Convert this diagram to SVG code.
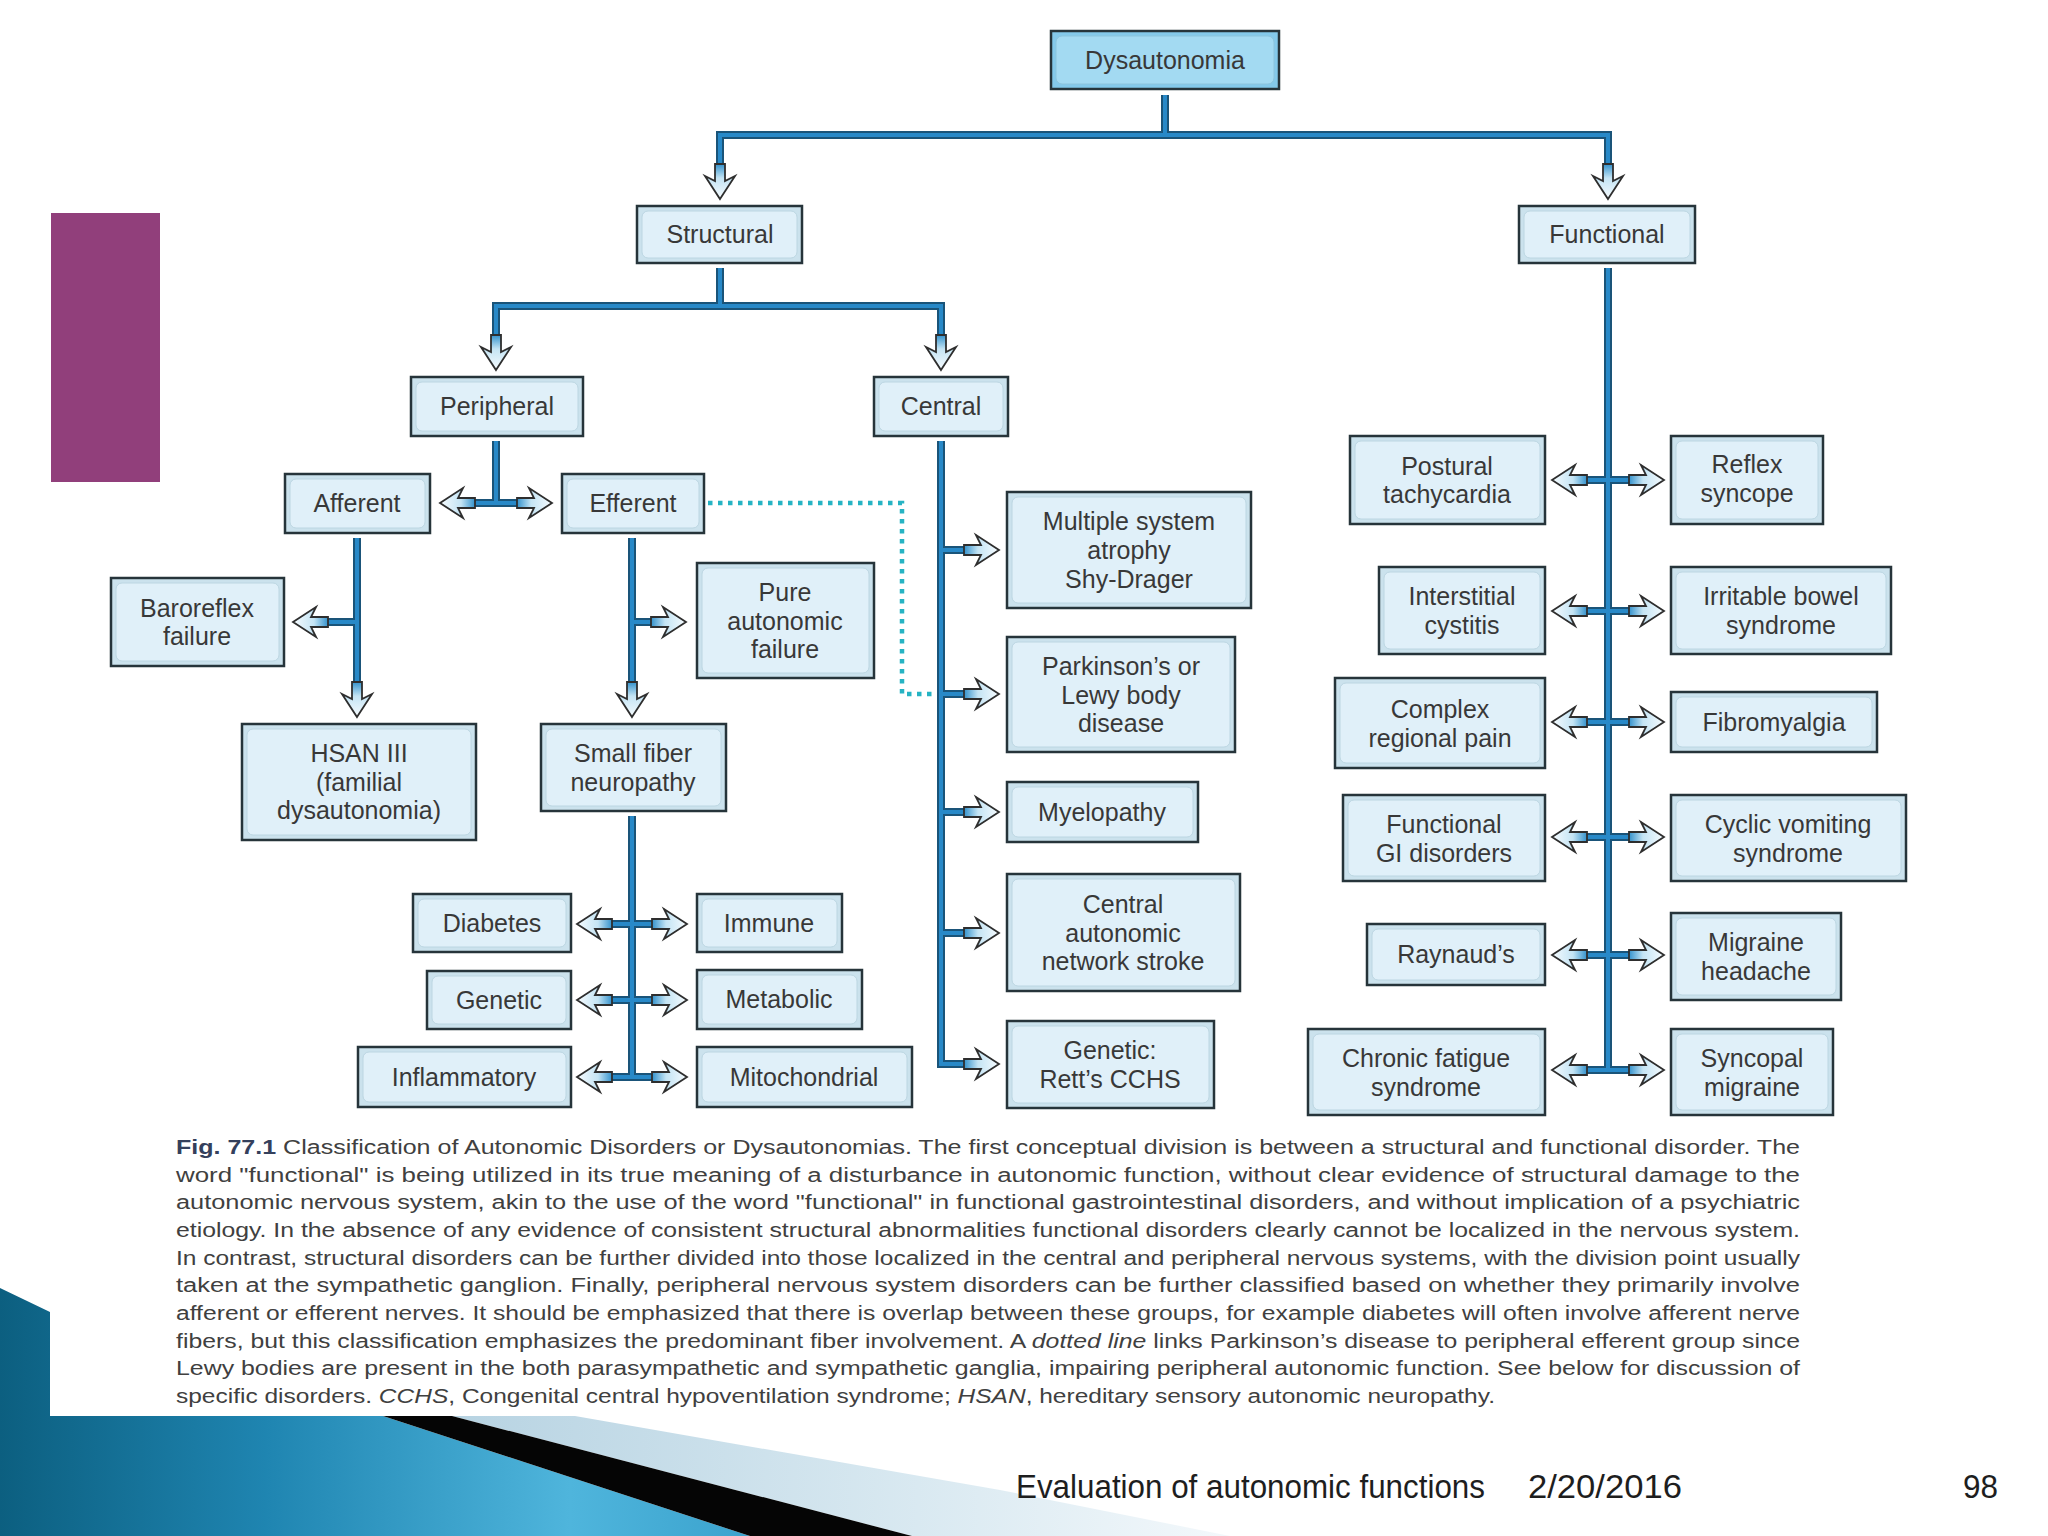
<svg xmlns="http://www.w3.org/2000/svg" width="2048" height="1536" viewBox="0 0 2048 1536">
<defs>
<linearGradient id="teal" x1="0" y1="0" x2="760" y2="0" gradientUnits="userSpaceOnUse">
<stop offset="0" stop-color="#0c5f80"/>
<stop offset="0.35" stop-color="#1f85b1"/>
<stop offset="0.75" stop-color="#4fb5dc"/>
<stop offset="1" stop-color="#3aa2cd"/>
</linearGradient>
<linearGradient id="pale" x1="450" y1="0" x2="1230" y2="0" gradientUnits="userSpaceOnUse">
<stop offset="0" stop-color="#b7d3e2"/>
<stop offset="0.6" stop-color="#d9e9f1"/>
<stop offset="1" stop-color="#f3f8fb"/>
</linearGradient>
<linearGradient id="ahg" x1="0" y1="0" x2="1" y2="0">
<stop offset="0" stop-color="#3492cc"/>
<stop offset="0.4" stop-color="#c4e4f4"/>
<stop offset="1" stop-color="#f6fbfe"/>
</linearGradient>
<path id="ah" d="M0,0 L-23,-15 L-18,-5 L-35,-5 L-35,5 L-18,5 L-23,15 Z" fill="url(#ahg)" stroke="#2e2e2e" stroke-width="1.8"/>
<path id="pipes" d="M1165,95 V135 M720,168 V135 H1608 V168 M720,268 V306 M496,339 V306 H941 V339 M496,441 V503 M469,503 H523 M357,538 V686 M357,622 H326 M632,538 V686 M632,622 H653 M632,816 V1077 M610,924 H654 M610,1000 H654 M610,1077 H654 M941,441 V1064 H966 M941,550 H966 M941,694 H966 M941,812 H966 M941,933 H966 M1608,268 V1070 M1585,480 H1631 M1585,611 H1631 M1585,722 H1631 M1585,837 H1631 M1585,955 H1631 M1585,1070 H1631"/>
</defs>
<style>
.box{fill:#cbe2ed;stroke:#26343a;stroke-width:2.5}
.inner{fill:#e0f0f9;stroke:#bcd6e2;stroke-width:1}
.root .box{fill:#84c9ea}
.root .inner{fill:#a3daf2;stroke:#8cc4dc}
.lbl{font-family:"Liberation Sans",Arial,sans-serif;font-size:25px;fill:#383838;text-anchor:middle}
.pipe-o{fill:none;stroke:#1a5479;stroke-width:8}
.pipe-i{fill:none;stroke:#2889c8;stroke-width:4}
.dots{fill:none;stroke:#26b3c3;stroke-width:4.5;stroke-dasharray:4.5 5.5}
.cap{font-family:"Liberation Sans",Arial,sans-serif;font-size:20px;fill:#404040}
.fig{font-weight:bold;fill:#34405c}
.foot{font-family:"Liberation Sans Narrow","Liberation Sans",Arial,sans-serif;font-size:33px;fill:#1e1e1e}
</style>
<rect width="2048" height="1536" fill="#ffffff"/>
<g id="decor">
<rect x="51" y="213" width="109" height="269" fill="#913f7b"/>
<polygon points="0,1288 50,1312 50,1416 383,1416 750,1536 0,1536" fill="url(#teal)"/>
<polygon points="452,1416 575,1416 1000,1490 1230,1536 912,1536" fill="url(#pale)"/>
<polygon points="383,1416 452,1416 912,1536 750,1536" fill="#050505"/>
</g>
<g id="connectors">
<use href="#pipes" class="pipe-o"/>
<use href="#pipes" class="pipe-i"/>
<path class="dots" d="M708,503 H902 V694 H935"/>
<use href="#ah" transform="translate(720,199) rotate(90)"/>
<use href="#ah" transform="translate(1608,199) rotate(90)"/>
<use href="#ah" transform="translate(496,370) rotate(90)"/>
<use href="#ah" transform="translate(941,370) rotate(90)"/>
<use href="#ah" transform="translate(440,503) rotate(180)"/>
<use href="#ah" transform="translate(552,503)"/>
<use href="#ah" transform="translate(357,717) rotate(90)"/>
<use href="#ah" transform="translate(293,622) rotate(180)"/>
<use href="#ah" transform="translate(632,717) rotate(90)"/>
<use href="#ah" transform="translate(686,622)"/>
<use href="#ah" transform="translate(577,924) rotate(180)"/>
<use href="#ah" transform="translate(687,924)"/>
<use href="#ah" transform="translate(577,1000) rotate(180)"/>
<use href="#ah" transform="translate(687,1000)"/>
<use href="#ah" transform="translate(577,1077) rotate(180)"/>
<use href="#ah" transform="translate(687,1077)"/>
<use href="#ah" transform="translate(999,550)"/>
<use href="#ah" transform="translate(999,694)"/>
<use href="#ah" transform="translate(999,812)"/>
<use href="#ah" transform="translate(999,933)"/>
<use href="#ah" transform="translate(999,1064)"/>
<use href="#ah" transform="translate(1552,480) rotate(180)"/>
<use href="#ah" transform="translate(1664,480)"/>
<use href="#ah" transform="translate(1552,611) rotate(180)"/>
<use href="#ah" transform="translate(1664,611)"/>
<use href="#ah" transform="translate(1552,722) rotate(180)"/>
<use href="#ah" transform="translate(1664,722)"/>
<use href="#ah" transform="translate(1552,837) rotate(180)"/>
<use href="#ah" transform="translate(1664,837)"/>
<use href="#ah" transform="translate(1552,955) rotate(180)"/>
<use href="#ah" transform="translate(1664,955)"/>
<use href="#ah" transform="translate(1552,1070) rotate(180)"/>
<use href="#ah" transform="translate(1664,1070)"/>
</g>
<g id="n-dysautonomia" class="root"><rect class="box" x="1051" y="31" width="228" height="58"/><rect class="inner" x="1056" y="36" width="218" height="48" rx="6"/><text class="lbl" x="1165" y="69">Dysautonomia</text></g>
<g id="n-structural"><rect class="box" x="637" y="206" width="165" height="57"/><rect class="inner" x="642" y="211" width="155" height="47" rx="6"/><text class="lbl" x="720" y="243">Structural</text></g>
<g id="n-functional"><rect class="box" x="1519" y="206" width="176" height="57"/><rect class="inner" x="1524" y="211" width="166" height="47" rx="6"/><text class="lbl" x="1607" y="243">Functional</text></g>
<g id="n-peripheral"><rect class="box" x="411" y="377" width="172" height="59"/><rect class="inner" x="416" y="382" width="162" height="49" rx="6"/><text class="lbl" x="497" y="415">Peripheral</text></g>
<g id="n-central"><rect class="box" x="874" y="377" width="134" height="59"/><rect class="inner" x="879" y="382" width="124" height="49" rx="6"/><text class="lbl" x="941" y="415">Central</text></g>
<g id="n-afferent"><rect class="box" x="285" y="474" width="145" height="59"/><rect class="inner" x="290" y="479" width="135" height="49" rx="6"/><text class="lbl" x="357" y="512">Afferent</text></g>
<g id="n-efferent"><rect class="box" x="562" y="474" width="142" height="59"/><rect class="inner" x="567" y="479" width="132" height="49" rx="6"/><text class="lbl" x="633" y="512">Efferent</text></g>
<g id="n-baroreflex"><rect class="box" x="111" y="578" width="173" height="88"/><rect class="inner" x="116" y="583" width="163" height="78" rx="6"/><text class="lbl" x="197" y="617">Baroreflex</text><text class="lbl" x="197" y="645">failure</text></g>
<g id="n-paf"><rect class="box" x="697" y="563" width="177" height="115"/><rect class="inner" x="702" y="568" width="167" height="105" rx="6"/><text class="lbl" x="785" y="601">Pure</text><text class="lbl" x="785" y="630">autonomic</text><text class="lbl" x="785" y="658">failure</text></g>
<g id="n-hsan"><rect class="box" x="242" y="724" width="234" height="116"/><rect class="inner" x="247" y="729" width="224" height="106" rx="6"/><text class="lbl" x="359" y="762">HSAN III</text><text class="lbl" x="359" y="791">(familial</text><text class="lbl" x="359" y="819">dysautonomia)</text></g>
<g id="n-sfn"><rect class="box" x="541" y="724" width="185" height="87"/><rect class="inner" x="546" y="729" width="175" height="77" rx="6"/><text class="lbl" x="633" y="762">Small fiber</text><text class="lbl" x="633" y="791">neuropathy</text></g>
<g id="n-diabetes"><rect class="box" x="413" y="894" width="158" height="58"/><rect class="inner" x="418" y="899" width="148" height="48" rx="6"/><text class="lbl" x="492" y="932">Diabetes</text></g>
<g id="n-immune"><rect class="box" x="697" y="894" width="145" height="58"/><rect class="inner" x="702" y="899" width="135" height="48" rx="6"/><text class="lbl" x="769" y="932">Immune</text></g>
<g id="n-genetic"><rect class="box" x="427" y="971" width="144" height="58"/><rect class="inner" x="432" y="976" width="134" height="48" rx="6"/><text class="lbl" x="499" y="1009">Genetic</text></g>
<g id="n-metabolic"><rect class="box" x="697" y="970" width="165" height="59"/><rect class="inner" x="702" y="975" width="155" height="49" rx="6"/><text class="lbl" x="779" y="1008">Metabolic</text></g>
<g id="n-inflammatory"><rect class="box" x="358" y="1047" width="213" height="60"/><rect class="inner" x="363" y="1052" width="203" height="50" rx="6"/><text class="lbl" x="464" y="1086">Inflammatory</text></g>
<g id="n-mitochondrial"><rect class="box" x="697" y="1047" width="215" height="60"/><rect class="inner" x="702" y="1052" width="205" height="50" rx="6"/><text class="lbl" x="804" y="1086">Mitochondrial</text></g>
<g id="n-msa"><rect class="box" x="1007" y="492" width="244" height="116"/><rect class="inner" x="1012" y="497" width="234" height="106" rx="6"/><text class="lbl" x="1129" y="530">Multiple system</text><text class="lbl" x="1129" y="559">atrophy</text><text class="lbl" x="1129" y="588">Shy-Drager</text></g>
<g id="n-parkinson"><rect class="box" x="1007" y="637" width="228" height="115"/><rect class="inner" x="1012" y="642" width="218" height="105" rx="6"/><text class="lbl" x="1121" y="675">Parkinson’s or</text><text class="lbl" x="1121" y="704">Lewy body</text><text class="lbl" x="1121" y="732">disease</text></g>
<g id="n-myelopathy"><rect class="box" x="1007" y="782" width="191" height="60"/><rect class="inner" x="1012" y="787" width="181" height="50" rx="6"/><text class="lbl" x="1102" y="821">Myelopathy</text></g>
<g id="n-can"><rect class="box" x="1007" y="874" width="233" height="117"/><rect class="inner" x="1012" y="879" width="223" height="107" rx="6"/><text class="lbl" x="1123" y="913">Central</text><text class="lbl" x="1123" y="942">autonomic</text><text class="lbl" x="1123" y="970">network stroke</text></g>
<g id="n-rett"><rect class="box" x="1007" y="1021" width="207" height="87"/><rect class="inner" x="1012" y="1026" width="197" height="77" rx="6"/><text class="lbl" x="1110" y="1059">Genetic:</text><text class="lbl" x="1110" y="1088">Rett’s CCHS</text></g>
<g id="n-postural"><rect class="box" x="1350" y="436" width="195" height="88"/><rect class="inner" x="1355" y="441" width="185" height="78" rx="6"/><text class="lbl" x="1447" y="475">Postural</text><text class="lbl" x="1447" y="503">tachycardia</text></g>
<g id="n-reflex"><rect class="box" x="1671" y="436" width="152" height="88"/><rect class="inner" x="1676" y="441" width="142" height="78" rx="6"/><text class="lbl" x="1747" y="473">Reflex</text><text class="lbl" x="1747" y="502">syncope</text></g>
<g id="n-interstitial"><rect class="box" x="1379" y="567" width="166" height="87"/><rect class="inner" x="1384" y="572" width="156" height="77" rx="6"/><text class="lbl" x="1462" y="605">Interstitial</text><text class="lbl" x="1462" y="634">cystitis</text></g>
<g id="n-ibs"><rect class="box" x="1671" y="567" width="220" height="87"/><rect class="inner" x="1676" y="572" width="210" height="77" rx="6"/><text class="lbl" x="1781" y="605">Irritable bowel</text><text class="lbl" x="1781" y="634">syndrome</text></g>
<g id="n-complex"><rect class="box" x="1335" y="678" width="210" height="90"/><rect class="inner" x="1340" y="683" width="200" height="80" rx="6"/><text class="lbl" x="1440" y="718">Complex</text><text class="lbl" x="1440" y="747">regional pain</text></g>
<g id="n-fibromyalgia"><rect class="box" x="1671" y="692" width="206" height="60"/><rect class="inner" x="1676" y="697" width="196" height="50" rx="6"/><text class="lbl" x="1774" y="731">Fibromyalgia</text></g>
<g id="n-fgid"><rect class="box" x="1343" y="795" width="202" height="86"/><rect class="inner" x="1348" y="800" width="192" height="76" rx="6"/><text class="lbl" x="1444" y="833">Functional</text><text class="lbl" x="1444" y="862">GI disorders</text></g>
<g id="n-cyclic"><rect class="box" x="1671" y="795" width="235" height="86"/><rect class="inner" x="1676" y="800" width="225" height="76" rx="6"/><text class="lbl" x="1788" y="833">Cyclic vomiting</text><text class="lbl" x="1788" y="862">syndrome</text></g>
<g id="n-raynaud"><rect class="box" x="1367" y="924" width="178" height="61"/><rect class="inner" x="1372" y="929" width="168" height="51" rx="6"/><text class="lbl" x="1456" y="963">Raynaud’s</text></g>
<g id="n-migraine"><rect class="box" x="1671" y="913" width="170" height="87"/><rect class="inner" x="1676" y="918" width="160" height="77" rx="6"/><text class="lbl" x="1756" y="951">Migraine</text><text class="lbl" x="1756" y="980">headache</text></g>
<g id="n-chronic"><rect class="box" x="1308" y="1029" width="237" height="86"/><rect class="inner" x="1313" y="1034" width="227" height="76" rx="6"/><text class="lbl" x="1426" y="1067">Chronic fatigue</text><text class="lbl" x="1426" y="1096">syndrome</text></g>
<g id="n-syncopal"><rect class="box" x="1671" y="1029" width="162" height="86"/><rect class="inner" x="1676" y="1034" width="152" height="76" rx="6"/><text class="lbl" x="1752" y="1067">Syncopal</text><text class="lbl" x="1752" y="1096">migraine</text></g>
<g id="caption" class="cap">
<text x="176" y="1154" textLength="1624" lengthAdjust="spacingAndGlyphs"><tspan class="fig">Fig. 77.1</tspan> Classification of Autonomic Disorders or Dysautonomias. The first conceptual division is between a structural and functional disorder. The</text>
<text x="176" y="1182" textLength="1624" lengthAdjust="spacingAndGlyphs">word "functional" is being utilized in its true meaning of a disturbance in autonomic function, without clear evidence of structural damage to the</text>
<text x="176" y="1209" textLength="1624" lengthAdjust="spacingAndGlyphs">autonomic nervous system, akin to the use of the word "functional" in functional gastrointestinal disorders, and without implication of a psychiatric</text>
<text x="176" y="1237" textLength="1624" lengthAdjust="spacingAndGlyphs">etiology. In the absence of any evidence of consistent structural abnormalities functional disorders clearly cannot be localized in the nervous system.</text>
<text x="176" y="1265" textLength="1624" lengthAdjust="spacingAndGlyphs">In contrast, structural disorders can be further divided into those localized in the central and peripheral nervous systems, with the division point usually</text>
<text x="176" y="1292" textLength="1624" lengthAdjust="spacingAndGlyphs">taken at the sympathetic ganglion. Finally, peripheral nervous system disorders can be further classified based on whether they primarily involve</text>
<text x="176" y="1320" textLength="1624" lengthAdjust="spacingAndGlyphs">afferent or efferent nerves. It should be emphasized that there is overlap between these groups, for example diabetes will often involve afferent nerve</text>
<text x="176" y="1348" textLength="1624" lengthAdjust="spacingAndGlyphs">fibers, but this classification emphasizes the predominant fiber involvement. A <tspan font-style="italic">dotted line</tspan> links Parkinson’s disease to peripheral efferent group since</text>
<text x="176" y="1375" textLength="1624" lengthAdjust="spacingAndGlyphs">Lewy bodies are present in the both parasympathetic and sympathetic ganglia, impairing peripheral autonomic function. See below for discussion of</text>
<text x="176" y="1403" textLength="1319" lengthAdjust="spacingAndGlyphs">specific disorders. <tspan font-style="italic">CCHS</tspan>, Congenital central hypoventilation syndrome; <tspan font-style="italic">HSAN</tspan>, hereditary sensory autonomic neuropathy.</text>
</g>
<g id="footer" class="foot">
<text x="1016" y="1498" textLength="469" lengthAdjust="spacingAndGlyphs">Evaluation of autonomic functions</text>
<text x="1528" y="1498" textLength="154" lengthAdjust="spacingAndGlyphs">2/20/2016</text>
<text x="1963" y="1498" textLength="35" lengthAdjust="spacingAndGlyphs">98</text>
</g>
</svg>
